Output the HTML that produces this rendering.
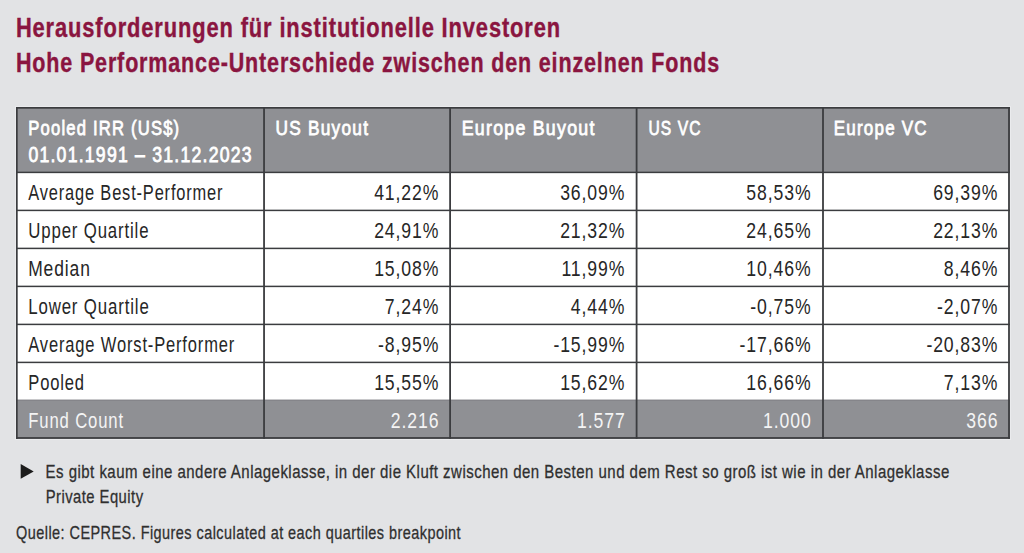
<!DOCTYPE html>
<html><head><meta charset="utf-8"><style>
html,body{margin:0;padding:0}
body{width:1024px;height:553px;background:#e2e3e5;position:relative;overflow:hidden;font-family:"Liberation Sans",sans-serif}
.t{position:absolute;left:0;white-space:nowrap;line-height:normal;transform-origin:0 0}
.r{position:absolute}
</style></head><body>
<div class="r" style="left:15px;top:105.8px;width:996.30px;height:334.40px;background:#eaebed"></div>
<div class="r" style="left:16px;top:107px;width:994.00px;height:65.00px;background:#8f9094"></div>
<div class="r" style="left:16px;top:172px;width:994.00px;height:228.00px;background:#ffffff"></div>
<div class="r" style="left:16px;top:400px;width:994.00px;height:39.00px;background:#8f9094"></div>
<svg class="r" style="left:0;top:0" width="1024" height="553" viewBox="0 0 1024 553"><rect x="16" y="171.65" width="993.90" height="1.5" fill="#3b3c3f"/><rect x="16" y="209.65" width="993.90" height="1.5" fill="#3b3c3f"/><rect x="16" y="247.65" width="993.90" height="1.5" fill="#3b3c3f"/><rect x="16" y="285.65" width="993.90" height="1.5" fill="#3b3c3f"/><rect x="16" y="323.65" width="993.90" height="1.5" fill="#3b3c3f"/><rect x="16" y="361.65" width="993.90" height="1.5" fill="#3b3c3f"/><rect x="16" y="399.60" width="993.90" height="0.8" fill="#76777a"/><rect x="16" y="107.00" width="993.90" height="1.7" fill="#3b3c3f"/><rect x="16" y="437.10" width="993.90" height="1.7" fill="#3b3c3f"/><rect x="16.00" y="107" width="1.7" height="331.80" fill="#3b3c3f"/><rect x="1008.10" y="107" width="1.8" height="331.80" fill="#3b3c3f"/><rect x="263.15" y="107" width="1.8" height="331.80" fill="#3b3c3f"/><rect x="449.20" y="107" width="1.8" height="331.80" fill="#3b3c3f"/><rect x="635.70" y="107" width="1.8" height="331.80" fill="#3b3c3f"/><rect x="822.10" y="107" width="1.8" height="331.80" fill="#3b3c3f"/></svg>
<div class="t" style="top:12px;font-size:27.5px;font-weight:700;color:#8a1540;letter-spacing:1.1px;-webkit-text-stroke-width:0.4px;transform:translateX(15.89px) scaleX(0.7953)">Herausforderungen für institutionelle Investoren</div>
<div class="t" style="top:47px;font-size:27.5px;font-weight:700;color:#8a1540;letter-spacing:1.1px;-webkit-text-stroke-width:0.4px;transform:translateX(15.91px) scaleX(0.7813)">Hohe Performance-Unterschiede zwischen den einzelnen Fonds</div>
<div class="t" style="top:116px;font-size:21px;font-weight:400;color:#ffffff;letter-spacing:1.5px;font-weight:400;-webkit-text-stroke:0.8px #fff;transform:translateX(28.29px) scaleX(0.7916)">Pooled IRR (US$)</div>
<div class="t" style="top:143px;font-size:21.5px;font-weight:400;color:#ffffff;letter-spacing:1.5px;font-weight:400;-webkit-text-stroke:0.8px #fff;transform:translateX(28.41px) scaleX(0.8201)">01.01.1991 – 31.12.2023</div>
<div class="t" style="top:116px;font-size:21px;font-weight:400;color:#ffffff;letter-spacing:1.5px;font-weight:400;-webkit-text-stroke:0.8px #fff;transform:translateX(275.47px) scaleX(0.8227)">US Buyout</div>
<div class="t" style="top:116px;font-size:21px;font-weight:400;color:#ffffff;letter-spacing:1.5px;font-weight:400;-webkit-text-stroke:0.8px #fff;transform:translateX(461.69px) scaleX(0.8455)">Europe Buyout</div>
<div class="t" style="top:116px;font-size:21px;font-weight:400;color:#ffffff;letter-spacing:1.5px;font-weight:400;-webkit-text-stroke:0.8px #fff;transform:translateX(648.45px) scaleX(0.7430)">US VC</div>
<div class="t" style="top:116px;font-size:21px;font-weight:400;color:#ffffff;letter-spacing:1.5px;font-weight:400;-webkit-text-stroke:0.8px #fff;transform:translateX(833.76px) scaleX(0.8096)">Europe VC</div>
<div class="t" style="top:181px;font-size:21.5px;font-weight:400;color:#262626;letter-spacing:1.1px;transform:translateX(28.27px) scaleX(0.7632)">Average Best-Performer</div>
<div class="t" style="top:181px;font-size:21.5px;font-weight:400;color:#262626;letter-spacing:1.1px;transform:translateX(374.15px) scaleX(0.8196)">41,22%</div>
<div class="t" style="top:181px;font-size:21.5px;font-weight:400;color:#262626;letter-spacing:1.1px;transform:translateX(560.15px) scaleX(0.8196)">36,09%</div>
<div class="t" style="top:181px;font-size:21.5px;font-weight:400;color:#262626;letter-spacing:1.1px;transform:translateX(746.35px) scaleX(0.8196)">58,53%</div>
<div class="t" style="top:181px;font-size:21.5px;font-weight:400;color:#262626;letter-spacing:1.1px;transform:translateX(933.15px) scaleX(0.8196)">69,39%</div>
<div class="t" style="top:219px;font-size:21.5px;font-weight:400;color:#262626;letter-spacing:1.1px;transform:translateX(28.31px) scaleX(0.7798)">Upper Quartile</div>
<div class="t" style="top:219px;font-size:21.5px;font-weight:400;color:#262626;letter-spacing:1.1px;transform:translateX(374.15px) scaleX(0.8196)">24,91%</div>
<div class="t" style="top:219px;font-size:21.5px;font-weight:400;color:#262626;letter-spacing:1.1px;transform:translateX(560.15px) scaleX(0.8196)">21,32%</div>
<div class="t" style="top:219px;font-size:21.5px;font-weight:400;color:#262626;letter-spacing:1.1px;transform:translateX(746.35px) scaleX(0.8196)">24,65%</div>
<div class="t" style="top:219px;font-size:21.5px;font-weight:400;color:#262626;letter-spacing:1.1px;transform:translateX(933.15px) scaleX(0.8196)">22,13%</div>
<div class="t" style="top:257px;font-size:21.5px;font-weight:400;color:#262626;letter-spacing:1.1px;transform:translateX(28.17px) scaleX(0.8118)">Median</div>
<div class="t" style="top:257px;font-size:21.5px;font-weight:400;color:#262626;letter-spacing:1.1px;transform:translateX(374.15px) scaleX(0.8196)">15,08%</div>
<div class="t" style="top:257px;font-size:21.5px;font-weight:400;color:#262626;letter-spacing:1.1px;transform:translateX(561.45px) scaleX(0.8196)">11,99%</div>
<div class="t" style="top:257px;font-size:21.5px;font-weight:400;color:#262626;letter-spacing:1.1px;transform:translateX(746.35px) scaleX(0.8196)">10,46%</div>
<div class="t" style="top:257px;font-size:21.5px;font-weight:400;color:#262626;letter-spacing:1.1px;transform:translateX(943.85px) scaleX(0.8196)">8,46%</div>
<div class="t" style="top:295px;font-size:21.5px;font-weight:400;color:#262626;letter-spacing:1.1px;transform:translateX(28.22px) scaleX(0.7820)">Lower Quartile</div>
<div class="t" style="top:295px;font-size:21.5px;font-weight:400;color:#262626;letter-spacing:1.1px;transform:translateX(384.85px) scaleX(0.8196)">7,24%</div>
<div class="t" style="top:295px;font-size:21.5px;font-weight:400;color:#262626;letter-spacing:1.1px;transform:translateX(570.85px) scaleX(0.8196)">4,44%</div>
<div class="t" style="top:295px;font-size:21.5px;font-weight:400;color:#262626;letter-spacing:1.1px;transform:translateX(750.28px) scaleX(0.8196)">-0,75%</div>
<div class="t" style="top:295px;font-size:21.5px;font-weight:400;color:#262626;letter-spacing:1.1px;transform:translateX(937.08px) scaleX(0.8196)">-2,07%</div>
<div class="t" style="top:333px;font-size:21.5px;font-weight:400;color:#262626;letter-spacing:1.1px;transform:translateX(28.27px) scaleX(0.7677)">Average Worst-Performer</div>
<div class="t" style="top:333px;font-size:21.5px;font-weight:400;color:#262626;letter-spacing:1.1px;transform:translateX(378.08px) scaleX(0.8196)">-8,95%</div>
<div class="t" style="top:333px;font-size:21.5px;font-weight:400;color:#262626;letter-spacing:1.1px;transform:translateX(553.38px) scaleX(0.8196)">-15,99%</div>
<div class="t" style="top:333px;font-size:21.5px;font-weight:400;color:#262626;letter-spacing:1.1px;transform:translateX(739.58px) scaleX(0.8196)">-17,66%</div>
<div class="t" style="top:333px;font-size:21.5px;font-weight:400;color:#262626;letter-spacing:1.1px;transform:translateX(926.38px) scaleX(0.8196)">-20,83%</div>
<div class="t" style="top:371px;font-size:21.5px;font-weight:400;color:#262626;letter-spacing:1.1px;transform:translateX(28.24px) scaleX(0.7706)">Pooled</div>
<div class="t" style="top:371px;font-size:21.5px;font-weight:400;color:#262626;letter-spacing:1.1px;transform:translateX(374.15px) scaleX(0.8196)">15,55%</div>
<div class="t" style="top:371px;font-size:21.5px;font-weight:400;color:#262626;letter-spacing:1.1px;transform:translateX(560.15px) scaleX(0.8196)">15,62%</div>
<div class="t" style="top:371px;font-size:21.5px;font-weight:400;color:#262626;letter-spacing:1.1px;transform:translateX(746.35px) scaleX(0.8196)">16,66%</div>
<div class="t" style="top:371px;font-size:21.5px;font-weight:400;color:#262626;letter-spacing:1.1px;transform:translateX(943.85px) scaleX(0.8196)">7,13%</div>
<div class="t" style="top:409px;font-size:21.5px;font-weight:400;color:#f4f4f4;letter-spacing:1.1px;transform:translateX(28.23px) scaleX(0.7761)">Fund Count</div>
<div class="t" style="top:409px;font-size:21.5px;font-weight:400;color:#f4f4f4;letter-spacing:1.1px;transform:translateX(390.86px) scaleX(0.8196)">2.216</div>
<div class="t" style="top:409px;font-size:21.5px;font-weight:400;color:#f4f4f4;letter-spacing:1.1px;transform:translateX(576.98px) scaleX(0.8196)">1.577</div>
<div class="t" style="top:409px;font-size:21.5px;font-weight:400;color:#f4f4f4;letter-spacing:1.1px;transform:translateX(762.98px) scaleX(0.8196)">1.000</div>
<div class="t" style="top:409px;font-size:21.5px;font-weight:400;color:#f4f4f4;letter-spacing:1.1px;transform:translateX(966.37px) scaleX(0.8196)">366</div>
<div class="t" style="top:461px;font-size:19px;font-weight:400;color:#2f2f2f;letter-spacing:0.6px;-webkit-text-stroke-width:0.3px;transform:translateX(45.57px) scaleX(0.7894)">Es gibt kaum eine andere Anlageklasse, in der die Kluft zwischen den Besten und dem Rest so groß ist wie in der Anlageklasse</div>
<div class="t" style="top:486px;font-size:19px;font-weight:400;color:#2f2f2f;letter-spacing:0.6px;-webkit-text-stroke-width:0.3px;transform:translateX(45.69px) scaleX(0.7786)">Private Equity</div>
<div class="t" style="top:522px;font-size:19px;font-weight:400;color:#2f2f2f;letter-spacing:0.6px;-webkit-text-stroke-width:0.3px;transform:translateX(16.02px) scaleX(0.7609)">Quelle: CEPRES. Figures calculated at each quartiles breakpoint</div>
<svg class="r" style="left:20px;top:464px" width="15" height="15" viewBox="0 0 15 15"><path d="M0.7 0.1 L13.7 7.4 L0.7 14.7 Z" fill="#1c1c1c"/></svg>
</body></html>
